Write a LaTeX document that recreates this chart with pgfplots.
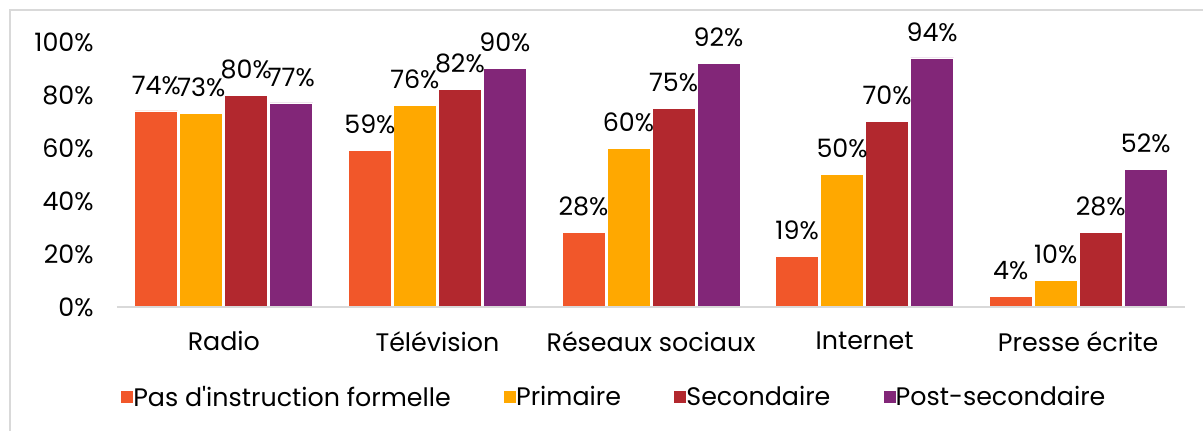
\documentclass[border=0pt]{standalone}
\usepackage{pgfplots}
\pgfplotsset{compat=1.18}
\usepackage{pgfplotstable}
\usepackage{fontspec}
\setmainfont{Poppins}[Ligatures=TeXOff]
\definecolor{cA}{RGB}{241,87,42}
\definecolor{cB}{RGB}{255,168,0}
\definecolor{cC}{RGB}{178,40,46}
\definecolor{cD}{RGB}{130,38,120}
\definecolor{gl}{RGB}{217,217,217}
\pgfplotstableread{
x a b c d
0 74 73 80 77
1 59 76 82 90
2 28 60 75 92
3 19 50 70 94
4 4 10 28 52
}\datatable
\begin{document}
\begin{tikzpicture}
\path[use as bounding box] (0,0) rectangle (902.25pt,322.5pt);
\draw[gl, line width=1pt] (7.5pt,-10pt) -- (7.5pt,315pt) -- (920pt,315pt);
\begin{axis}[
  at={(87.75pt,92.25pt)}, anchor=south west,
  scale only axis, width=801pt, height=198.75pt,
  xmin=-0.5, xmax=4.5, ymin=0, ymax=100,
  ybar=1.5pt, bar width=32.25pt,
  axis line style={draw=none},
  xtick=data,
  xticklabels={Radio,Télévision,Réseaux sociaux,Internet,Presse écrite},
  ytick={0,20,40,60,80,100},
  yticklabel={\pgfmathprintnumber{\tick}\%},
  /pgf/number format/assume math mode=true,
  major tick length=0pt,
  tick style={draw=none},
  ticklabel style={font=\fontsize{19}{22}\selectfont, text=black},
  xticklabel style={yshift=-15pt},
  yticklabel style={xshift=-14pt},
  nodes near coords={\pgfmathprintnumber{\pgfplotspointmeta}\%},
  nodes near coords style={font=\fontsize{19}{22}\selectfont, text=black, inner sep=2pt, yshift=10pt},
  legend columns=4,
  legend style={draw=none, fill=none, font=\fontsize{19}{22}\selectfont,
    at={(0.466,-0.34)}, anchor=center,
    /tikz/every even column/.append style={column sep=38pt},
    /tikz/every odd column/.append style={column sep=-2pt}},
  legend image code/.code={\fill[#1, draw=none] (0pt,-4.5pt) rectangle (9pt,4.5pt);},
]
\addplot[fill=cA, draw=white, line width=0.6pt] table[x=x,y=a] {\datatable};
\addplot[fill=cB, draw=white, line width=0.6pt] table[x=x,y=b] {\datatable};
\addplot[fill=cC, draw=white, line width=0.6pt] table[x=x,y=c] {\datatable};
\addplot[fill=cD, draw=white, line width=0.6pt] table[x=x,y=d] {\datatable};
\draw[gl, line width=1.2pt] (axis cs:-0.5,0) -- (axis cs:4.5,0);
\legend{Pas d'instruction formelle, Primaire, Secondaire, Post-secondaire}
\end{axis}
\end{tikzpicture}
\end{document}
